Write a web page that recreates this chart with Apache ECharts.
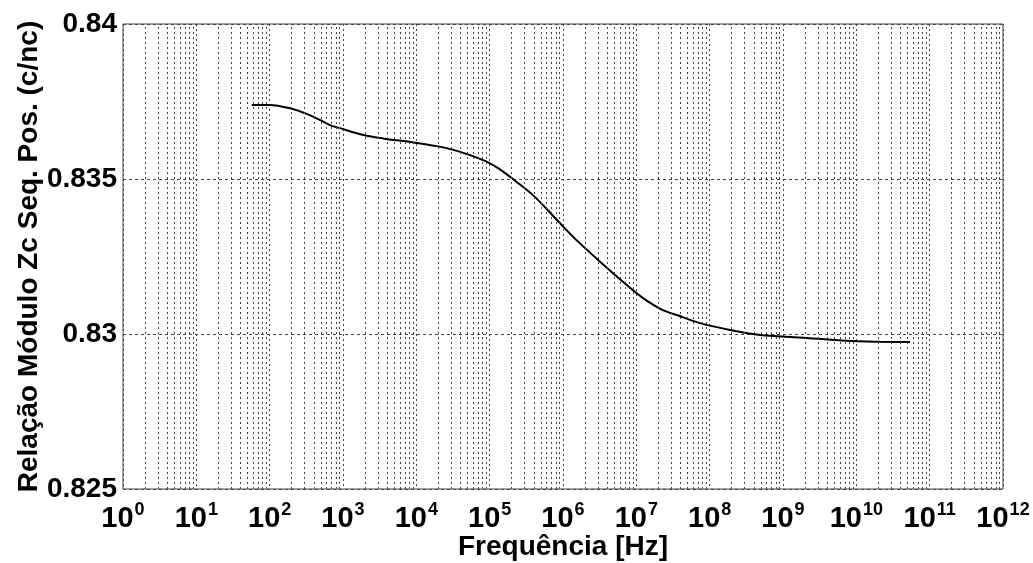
<!DOCTYPE html>
<html>
<head>
<meta charset="utf-8">
<script src="https://cdn.jsdelivr.net/npm/echarts@6/dist/echarts.min.js"></script>
<style>
html,body{margin:0;padding:0;background:#fff;}
#c{width:1033px;height:563px;}
</style>
</head>
<body>
<div id="c"></div>
<script>
// Frequency [Hz] and ratio values
var freqs = [57, 100, 190, 320, 490, 660, 910, 1900, 3500, 9100, 19000, 32000, 54000, 91000,
  138000, 210000, 390000, 740000, 1.0e6, 1.54e6, 3.5e6, 7.4e6, 1.25e7, 2.3e7, 3.9e7, 7.4e7,
  1.9e8, 4.9e8, 1.7e9, 7.4e9, 2.1e10, 5.4e10];
var values = [0.83739, 0.83739, 0.83728, 0.83710, 0.83690, 0.83674, 0.83664, 0.83642, 0.83631,
  0.83618, 0.83606, 0.83594, 0.83577, 0.83556, 0.83531, 0.83499, 0.83448, 0.83380, 0.83347,
  0.83302, 0.83225, 0.83158, 0.83115, 0.83077, 0.83058, 0.83035, 0.83013, 0.82997, 0.82989,
  0.82978, 0.82975, 0.82974];
var xMin = 1, xMax = 1e12;
var yMin = 0.825, yMax = 0.84, yStep = 0.005;
var xTitle = 'Frequência [Hz]';
var yTitle = 'Relação Módulo Zc Seq. Pos. (c/nc)';

var pts = freqs.map(function (f, i) { return [f, values[i]]; });

// minor log grid lines at k*10^n, k = 2..9
var minorLines = [];
for (var n = 0; n < 12; n++) {
  for (var k = 2; k <= 9; k++) {
    minorLines.push({ xAxis: k * Math.pow(10, n) });
  }
}

var font = '"Liberation Sans", Arial, sans-serif';
var chart = echarts.init(document.getElementById('c'), null, { renderer: 'canvas' });
chart.setOption({
  animation: false,
  backgroundColor: '#fff',
  grid: { left: 123, right: 30, top: 24, bottom: 74, containLabel: false, outerBoundsMode: 'none',
    show: true, borderColor: '#444', borderWidth: 1, backgroundColor: 'transparent' },
  xAxis: {
    type: 'log', logBase: 10, min: xMin, max: xMax, interval: 1, splitNumber: 12,
    name: xTitle, nameLocation: 'middle', nameGap: 44, nameMoveOverlap: false,
    nameTextStyle: { fontFamily: font, fontWeight: 'bold', fontSize: 28, color: '#000' },
    axisLine: { show: false }, axisTick: { show: false },
    splitLine: { show: true, lineStyle: { color: '#444', width: 1, type: [2, 3] } },
    axisLabel: {
      margin: 12, hideOverlap: false,
      formatter: function (v) {
        var e = Math.round(Math.log10(v));
        return '{b|10}{s|' + e + '}';
      },
      rich: {
        b: { fontFamily: font, fontWeight: 'bold', fontSize: 29, color: '#000', verticalAlign: 'bottom' },
        s: { fontFamily: font, fontWeight: 'bold', fontSize: 18, color: '#000', verticalAlign: 'bottom', padding: [0, 0, 14, 1] }
      }
    }
  },
  yAxis: {
    type: 'value', min: yMin, max: yMax, interval: yStep,
    name: yTitle, nameLocation: 'middle', nameGap: 80, nameRotate: 90, nameMoveOverlap: false,
    nameTextStyle: { fontFamily: font, fontWeight: 'bold', fontSize: 28, color: '#000' },
    axisLine: { show: false }, axisTick: { show: false },
    splitLine: { show: true, lineStyle: { color: '#444', width: 1, type: [3, 3] } },
    axisLabel: {
      margin: 6,
      fontFamily: font, fontWeight: 'bold', fontSize: 28, color: '#000',
      formatter: function (v) { return String(parseFloat(v.toFixed(3))); }
    }
  },
  series: [
    {
      type: 'line', data: [], silent: true,
      markLine: {
        silent: true, symbol: ['none', 'none'], label: { show: false },
        lineStyle: { color: '#444', width: 1, type: [2, 3] },
        emphasis: { disabled: true },
        data: minorLines
      }
    },
    {
      type: 'line', data: pts, showSymbol: false, smooth: 0.3,
      lineStyle: { color: '#000', width: 2 }
    }
  ]
});
</script>
</body>
</html>
